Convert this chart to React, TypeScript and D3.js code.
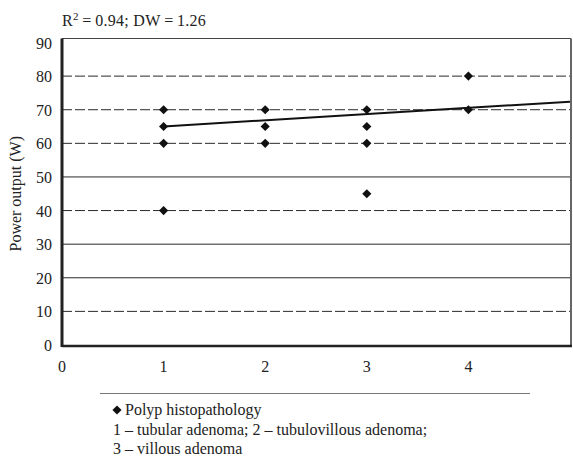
import * as d3 from 'd3'

// values
const xTicks = [0, 1, 2, 3, 4]
const yTicks = [0, 10, 20, 30, 40, 50, 60, 70, 80, 90]
const dashedGrid = [10, 40, 60, 70, 80]
const solidGrid = [20, 30, 50]

const polypType = [1, 1, 1, 1, 2, 2, 2, 3, 3, 3, 3, 4, 4]
const powerOutput = [70, 65, 60, 40, 70, 65, 60, 70, 65, 60, 45, 80, 70]

const trendX = [1, 5]
const trendY = [65, 72.4]

const legendLines = [
  '1 \u2013 tubular adenoma; 2 \u2013 tubulovillous adenoma;',
  '3 \u2013 villous adenoma',
]

const W = 573
const H = 460
const font = 'Liberation Serif, Times New Roman, serif'

const App = () => {
  const x = d3.scaleLinear().domain([0, 5]).range([62, 570])
  const y = d3.scaleLinear().domain([0, 90]).range([345, 42.5])

  const diamond = d3.symbol().type(d3.symbolSquare).size(42)() || ''

  const line = d3.line<number>()
    .x(d => x(trendX[d]))
    .y(d => y(trendY[d]))

  const top = y(90) - 4

  return (
    <div style={{ position: 'absolute', left: 0, top: 0 }}>
      <svg width={W} height={H} style={{ display: 'block' }}>
        <rect width={W} height={H} fill='#fff' />

        {/* title */}
        <text x={62} y={26} fontSize={16} fill='#222' fontFamily={font} letterSpacing={0.3}>
          R<tspan dy={-6} fontSize={11}>2</tspan>
          <tspan dy={6}>{'\u2009=\u20090.94; DW\u2009=\u20091.26'}</tspan>
        </text>

        {/* grid */}
        {dashedGrid.map(v => (
          <line key={'d' + v} x1={x(0)} x2={x(5)} y1={y(v)} y2={y(v)}
            stroke='#2a2a2a' strokeWidth={1} strokeDasharray='10 3' />
        ))}
        {solidGrid.map(v => (
          <line key={'s' + v} x1={x(0)} x2={x(5)} y1={y(v)} y2={y(v)}
            stroke='#2a2a2a' strokeWidth={1} />
        ))}

        {/* frame */}
        <line x1={x(0)} x2={x(5) + 1} y1={top} y2={top} stroke='#444' strokeWidth={1} />
        <line x1={x(5) + 1} x2={x(5) + 1} y1={top} y2={y(0) + 1} stroke='#666' strokeWidth={2} />
        <line x1={x(0)} x2={x(5) + 2} y1={y(0) + 1} y2={y(0) + 1} stroke='#222' strokeWidth={2.5} />
        <line x1={x(0)} x2={x(0)} y1={top} y2={y(0) + 2} stroke='#222' strokeWidth={3} />

        {/* y ticks */}
        {yTicks.map(v => (
          <text key={v} x={52} y={y(v) + 6} fontSize={16} textAnchor='end' fill='#222'
            fontFamily={font}>{v}</text>
        ))}
        {/* x ticks */}
        {xTicks.map(v => (
          <text key={v} x={x(v)} y={372} fontSize={16} textAnchor='middle' fill='#222'
            fontFamily={font}>{v}</text>
        ))}

        <text transform={`translate(21,${(y(0) + y(90)) / 2}) rotate(-90)`} fontSize={16}
          textAnchor='middle' fill='#222' fontFamily={font}>Power output (W)</text>

        {/* trend line */}
        <path d={line([0, 1]) || ''} fill='none' stroke='#111' strokeWidth={2} />

        {/* points */}
        {powerOutput.map((v, i) => (
          <path key={i} d={diamond}
            transform={`translate(${x(polypType[i])},${y(v)}) rotate(45)`} fill='#111' />
        ))}

        {/* legend */}
        <line x1={100} x2={530} y1={393.5} y2={393.5} stroke='#777' strokeWidth={1} />
        <path d={diamond} transform='translate(117,410) rotate(45)' fill='#111' />
        <text x={125} y={415} fontSize={16} fill='#222' fontFamily={font}>Polyp histopathology</text>
        {legendLines.map((t, i) => (
          <text key={i} x={113} y={435 + i * 19} fontSize={16} fill='#222' fontFamily={font}>{t}</text>
        ))}
      </svg>
    </div>
  )
}

export default App
